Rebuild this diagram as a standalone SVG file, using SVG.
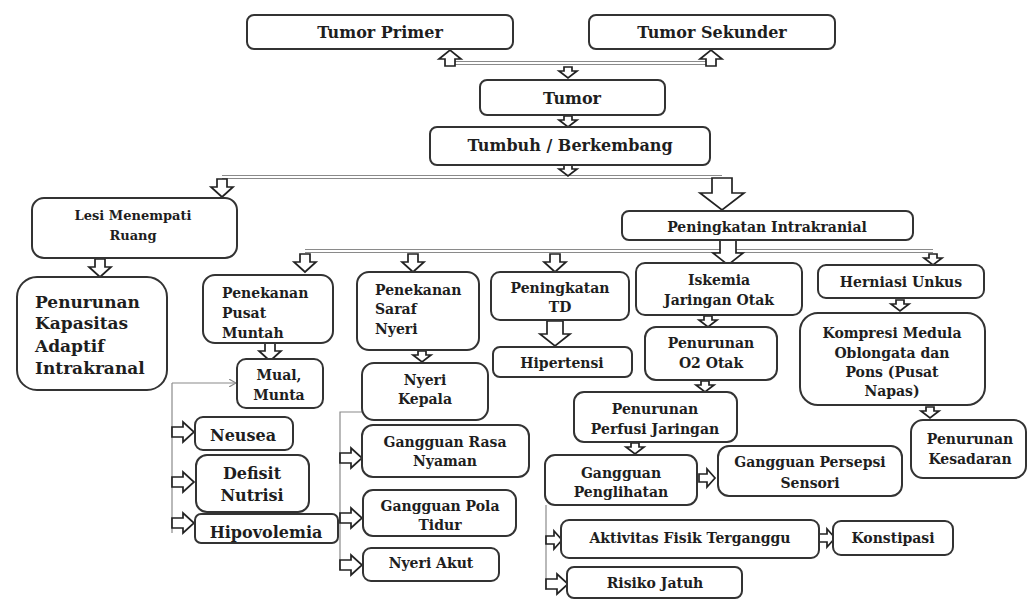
<svg xmlns="http://www.w3.org/2000/svg" xmlns:xlink="http://www.w3.org/1999/xlink" width="1027" height="599" viewBox="0 0 1027 599">
<style>
.bx{fill:#fff;stroke:#333;stroke-width:2}
.t{font-family:"DejaVu Serif","Liberation Serif",serif;font-weight:bold;font-size:14px;fill:#1e1e1e;text-anchor:middle}
.l{text-anchor:start}
.big{font-size:16px}
.xl{font-size:17px}
.sm{font-size:13px}
.ln{fill:none;stroke:#8a8a8a;stroke-width:1.2}
.ar{fill:#fff;stroke:#222;stroke-width:1.7;stroke-linejoin:miter}
</style>
<defs>
<path id="dn" class="ar" d="M-5,0 H5 V8 H11 L0,18 L-11,8 H-5 Z"/>
<path id="dnS" class="ar" d="M-4,0 H4 V4 H9 L0,11 L-9,4 H-4 Z"/>
<path id="dnM" class="ar" d="M-8,0 H8 V13 H15 L0,25 L-15,13 H-8 Z"/>
<path id="dnB" class="ar" d="M-10,0 H10 V15 H22 L0,32 L-22,15 H-10 Z"/>
<path id="up" class="ar" d="M-5,16 H5 V9 H11 L0,0 L-11,9 H-5 Z"/>
<path id="rt" class="ar" d="M0,-5 H11 V-10 L22,0 L11,10 V5 H0 Z"/>
<path id="rtS" class="ar" d="M0,-4 H8 V-9 L16,0 L8,9 V4 H0 Z"/>
<marker id="thin" markerWidth="8" markerHeight="8" refX="7" refY="4" orient="auto" markerUnits="userSpaceOnUse"><path d="M0,0 L7,4 L0,8" fill="none" stroke="#8a8a8a" stroke-width="1.2"/></marker>
</defs>

<g id="connectors">
<path class="ln" d="M450,61.5 H711 M450,64.5 H711"/>
<path class="ln" d="M222,175.5 H722 M222,178.5 H722"/>
<path class="ln" d="M305,249.5 H933 M305,252.5 H933"/>
<path class="ln" d="M172,383 V533" />
<path class="ln" d="M172,383 H236" marker-end="url(#thin)"/>
<path class="ln" d="M362,412 H340 V570"/>
<path class="ln" d="M546,505 V590"/>
<use href="#up" x="450" y="50"/>
<use href="#up" x="711" y="50"/>
<use href="#dnS" x="568" y="67"/>
<use href="#dnS" x="568" y="116"/>
<use href="#dnS" x="568" y="165"/>
<use href="#dn" x="222" y="179"/>
<use href="#dnB" x="722" y="178"/>
<use href="#dnM" x="728" y="240"/>
<use href="#dn" x="305" y="254"/>
<use href="#dn" x="413" y="254"/>
<use href="#dn" x="555" y="254"/>
<use href="#dnS" x="933" y="254"/>
<use href="#dn" x="100" y="259"/>
<use href="#dn" x="270" y="343"/>
<use href="#dnS" x="422" y="351"/>
<use href="#dnM" x="555" y="321"/>
<use href="#dnS" x="708" y="316"/>
<use href="#dnS" x="705" y="381"/>
<use href="#dnS" x="635" y="443"/>
<use href="#dnS" x="900" y="300"/>
<use href="#dnS" x="930" y="407"/>
<use href="#rt" x="172" y="432"/>
<use href="#rt" x="172" y="482"/>
<use href="#rt" x="172" y="523"/>
<use href="#rt" x="340" y="458"/>
<use href="#rt" x="340" y="518"/>
<use href="#rt" x="340" y="565"/>
<use href="#rtS" x="699" y="478"/>
<use href="#rtS" x="546" y="540"/>
<use href="#rt" x="546" y="584"/>
<use href="#rtS" x="819" y="538"/>
</g>

<g id="tumor-primer"><rect class="bx" x="247" y="15" width="266" height="34" rx="7"/><text class="t big" x="380" y="38">Tumor Primer</text></g>
<g id="tumor-sekunder"><rect class="bx" x="589" y="15" width="246" height="34" rx="7"/><text class="t big" x="712" y="38">Tumor Sekunder</text></g>
<g id="tumor"><rect class="bx" x="480" y="80" width="185" height="35" rx="7"/><text class="t big" x="572" y="104">Tumor</text></g>
<g id="tumbuh"><rect class="bx" x="430" y="127" width="280" height="38" rx="7"/><text class="t big" x="570" y="151">Tumbuh / Berkembang</text></g>
<g id="lesi"><rect class="bx" x="32" y="198" width="205" height="60" rx="12"/><text class="t sm" x="133" y="220">Lesi Menempati</text><text class="t sm" x="133" y="240">Ruang</text></g>
<g id="peningkatan-intrakranial"><rect class="bx" x="622" y="211" width="291" height="29" rx="7"/><text class="t" x="767" y="232">Peningkatan Intrakranial</text></g>
<g id="penurunan-kapasitas"><rect class="bx" x="17" y="277" width="150" height="113" rx="20"/><text class="t xl l" x="35" y="308">Penurunan</text><text class="t xl l" x="35" y="329">Kapasitas</text><text class="t xl l" x="35" y="352">Adaptif</text><text class="t xl l" x="35" y="374">Intrakranal</text></g>
<g id="penekanan-pusat"><rect class="bx" x="203" y="275" width="130" height="68" rx="12"/><text class="t l" x="222" y="298">Penekanan</text><text class="t l" x="222" y="318">Pusat</text><text class="t l" x="222" y="338">Muntah</text></g>
<g id="penekanan-saraf"><rect class="bx" x="357" y="272" width="122" height="78" rx="12"/><text class="t l" x="375" y="295">Penekanan</text><text class="t l" x="375" y="314">Saraf</text><text class="t l" x="375" y="334">Nyeri</text></g>
<g id="peningkatan-td"><rect class="bx" x="491" y="272" width="138" height="48" rx="9"/><text class="t" x="560" y="293">Peningkatan</text><text class="t" x="560" y="312">TD</text></g>
<g id="hipertensi"><rect class="bx" x="493" y="347" width="139" height="30" rx="7"/><text class="t" x="562" y="368">Hipertensi</text></g>
<g id="iskemia"><rect class="bx" x="636" y="263" width="166" height="52" rx="9"/><text class="t" x="719" y="285">Iskemia</text><text class="t" x="719" y="305">Jaringan Otak</text></g>
<g id="herniasi"><rect class="bx" x="818" y="265" width="166" height="33" rx="8"/><text class="t" x="901" y="287">Herniasi Unkus</text></g>
<g id="kompresi"><rect class="bx" x="800" y="313" width="185" height="92" rx="18"/><text class="t" x="892" y="338">Kompresi Medula</text><text class="t" x="892" y="358">Oblongata dan</text><text class="t" x="892" y="377">Pons (Pusat</text><text class="t" x="892" y="396">Napas)</text></g>
<g id="penurunan-o2"><rect class="bx" x="645" y="327" width="132" height="53" rx="11"/><text class="t" x="711" y="348">Penurunan</text><text class="t" x="711" y="368">O2 Otak</text></g>
<g id="penurunan-perfusi"><rect class="bx" x="574" y="392" width="163" height="50" rx="10"/><text class="t" x="655" y="414">Penurunan</text><text class="t" x="655" y="434">Perfusi Jaringan</text></g>
<g id="gangguan-penglihatan"><rect class="bx" x="545" y="455" width="152" height="50" rx="10"/><text class="t" x="621" y="478">Gangguan</text><text class="t" x="621" y="497">Penglihatan</text></g>
<g id="gangguan-persepsi"><rect class="bx" x="718" y="446" width="184" height="50" rx="11"/><text class="t" x="810" y="467">Gangguan Persepsi</text><text class="t" x="810" y="488">Sensori</text></g>
<g id="penurunan-kesadaran"><rect class="bx" x="911" y="420" width="115" height="58" rx="12"/><text class="t" x="970" y="444">Penurunan</text><text class="t" x="970" y="464">Kesadaran</text></g>
<g id="aktivitas"><rect class="bx" x="561" y="520" width="258" height="38" rx="8"/><text class="t" x="690" y="543">Aktivitas Fisik Terganggu</text></g>
<g id="konstipasi"><rect class="bx" x="833" y="521" width="120" height="34" rx="8"/><text class="t" x="893" y="543">Konstipasi</text></g>
<g id="risiko-jatuh"><rect class="bx" x="567" y="567" width="175" height="31" rx="7"/><text class="t" x="655" y="588">Risiko Jatuh</text></g>
<g id="mual"><rect class="bx" x="237" y="359" width="86" height="49" rx="9"/><text class="t" x="279" y="380">Mual,</text><text class="t" x="279" y="400">Munta</text></g>
<g id="neusea"><rect class="bx" x="195" y="417" width="98" height="33" rx="8"/><text class="t big" x="243" y="441">Neusea</text></g>
<g id="defisit-nutrisi"><rect class="bx" x="196" y="455" width="113" height="57" rx="11"/><text class="t big" x="252" y="479">Defisit</text><text class="t big" x="252" y="501">Nutrisi</text></g>
<g id="hipovolemia"><rect class="bx" x="195" y="514" width="143" height="29" rx="6"/><text class="t big" x="266" y="538">Hipovolemia</text></g>
<g id="nyeri-kepala"><rect class="bx" x="362" y="363" width="126" height="57" rx="12"/><text class="t" x="425" y="385">Nyeri</text><text class="t" x="425" y="404">Kepala</text></g>
<g id="gangguan-rasa"><rect class="bx" x="362" y="425" width="167" height="52" rx="11"/><text class="t" x="445" y="447">Gangguan Rasa</text><text class="t" x="445" y="466">Nyaman</text></g>
<g id="gangguan-pola"><rect class="bx" x="363" y="490" width="153" height="46" rx="10"/><text class="t" x="440" y="511">Gangguan Pola</text><text class="t" x="440" y="530">Tidur</text></g>
<g id="nyeri-akut"><rect class="bx" x="363" y="548" width="136" height="33" rx="8"/><text class="t" x="431" y="568">Nyeri Akut</text></g>
</svg>
